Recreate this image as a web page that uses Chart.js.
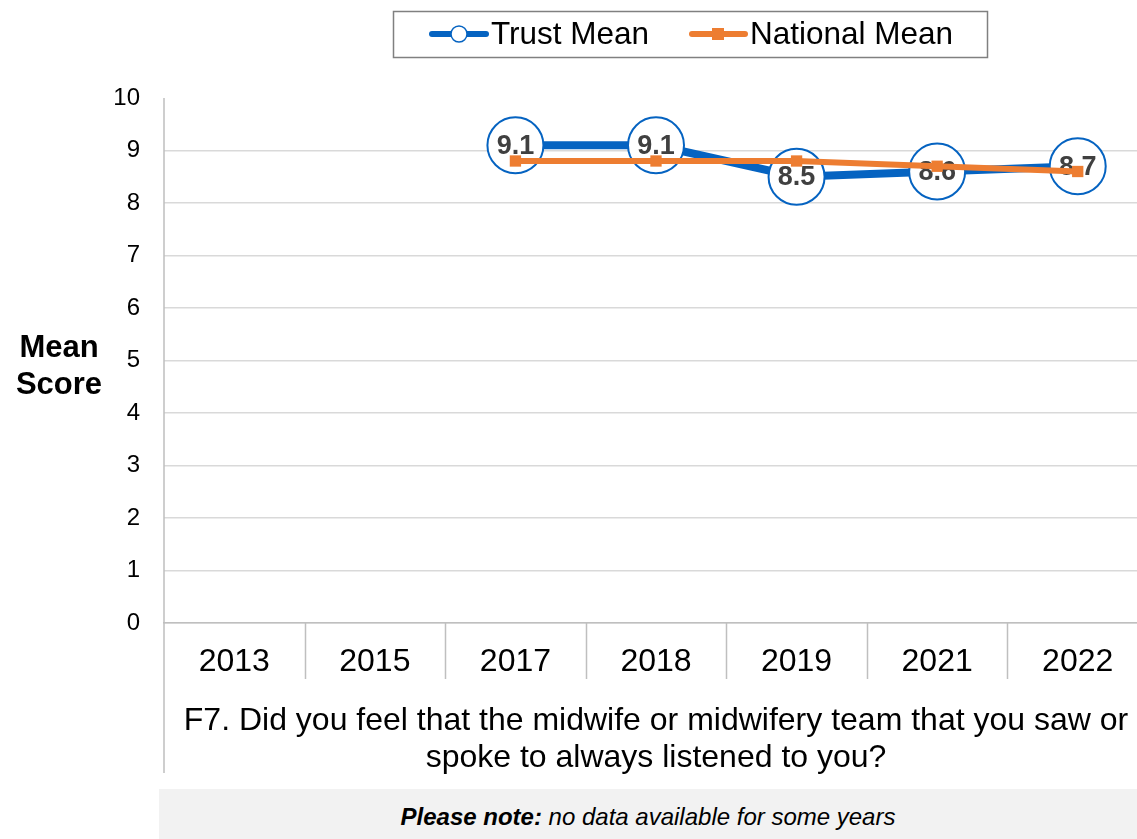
<!DOCTYPE html>
<html>
<head>
<meta charset="utf-8">
<script src="https://cdn.jsdelivr.net/npm/chart.js@4"></script>
<style>
	html, body { margin: 0; padding: 0; background: #fff; overflow: hidden; }
	#wrap { position: relative; width: 1137px; height: 839px; overflow: hidden; }
	#box { position: absolute; left: 0; top: 0; width: 1150px; height: 789px; }
	#note {
		position: absolute; left: 159px; top: 789px; width: 978px; height: 50px;
		background: #f2f2f2; font-family: "Liberation Sans", Arial, sans-serif;
		font-size: 24px; font-style: italic; color: #000;
		text-align: center; line-height: 56px;
	}
</style>
</head>
<body>
<div id="wrap">
	<div id="box"><canvas id="myChart" width="1150" height="789"></canvas></div>
	<div id="note"><b>Please note:</b> no data available for some years</div>
</div>
<script>
const years = ["2013", "2015", "2017", "2018", "2019", "2021", "2022"];
const trustMean = [null, null, 9.1, 9.1, 8.5, 8.6, 8.7];
const nationalMean = [null, null, 8.8, 8.8, 8.8, 8.7, 8.6];
const questionTitle = [
	"F7. Did you feel that the midwife or midwifery team that you saw or",
	"spoke to always listened to you?",
];

const BLUE = "#0563c1";
const ORANGE = "#ed7d31";
const FONT = "'Liberation Sans', Arial, sans-serif";

// подписи значений внутри кружков
const valueLabels = {
	id: "valueLabels",
	afterDatasetDraw(chart, args) {
		if (args.index !== 0) return;
		const ctx = chart.ctx;
		ctx.save();
		ctx.font = "bold 27px " + FONT;
		ctx.fillStyle = "#404040";
		ctx.textAlign = "center";
		ctx.textBaseline = "middle";
		args.meta.data.forEach((pt, i) => {
			const v = trustMean[i];
			if (v == null) return;
			ctx.fillText(v.toFixed(1), pt.x, pt.y + 1);
		});
		ctx.restore();
	},
};

// линии осей, разделители категорий, подпись оси Y, легенда
const decorations = {
	id: "decorations",
	afterDraw(chart) {
		const ctx = chart.ctx;
		const area = chart.chartArea;
		const x = chart.scales.x;
		ctx.save();
		ctx.strokeStyle = "#bfbfbf";
		ctx.lineWidth = 1.5;
		ctx.beginPath();
		ctx.moveTo(area.left, area.top);
		ctx.lineTo(area.left, 773);
		const step = x.getPixelForValue(1) - x.getPixelForValue(0);
		for (let i = 1; i < years.length; i++) {
			const px = Math.round(x.getPixelForValue(i) - step / 2) + 0.5;
			ctx.moveTo(px, area.bottom);
			ctx.lineTo(px, 679);
		}
		ctx.stroke();

		// Mean Score
		ctx.fillStyle = "#000";
		ctx.font = "bold 31px " + FONT;
		ctx.textAlign = "center";
		ctx.textBaseline = "middle";
		ctx.fillText("Mean", 59, 348);
		ctx.fillText("Score", 59, 385);

		// legend
		ctx.strokeStyle = "#808080";
		ctx.lineWidth = 1.5;
		ctx.strokeRect(393.5, 11.5, 594, 46);
		const ly = 34;
		ctx.lineCap = "round";
		ctx.strokeStyle = BLUE;
		ctx.lineWidth = 6;
		ctx.beginPath();
		ctx.moveTo(432, ly);
		ctx.lineTo(486, ly);
		ctx.stroke();
		ctx.fillStyle = "#fff";
		ctx.lineWidth = 1.5;
		ctx.beginPath();
		ctx.arc(459, ly, 8, 0, Math.PI * 2);
		ctx.fill();
		ctx.stroke();
		ctx.strokeStyle = ORANGE;
		ctx.lineWidth = 6;
		ctx.beginPath();
		ctx.moveTo(692, ly);
		ctx.lineTo(745, ly);
		ctx.stroke();
		ctx.fillStyle = ORANGE;
		ctx.fillRect(712, ly - 6, 12, 12);
		ctx.fillStyle = "#000";
		ctx.font = "31.5px " + FONT;
		ctx.textAlign = "left";
		ctx.fillText("Trust Mean", 491, ly + 1);
		ctx.fillText("National Mean", 750, ly + 1);
		ctx.restore();
	},
};

const ctx = document.getElementById("myChart");

new Chart(ctx, {
	type: "line",
	data: {
		labels: years,
		datasets: [
			{
				label: "Trust Mean",
				data: trustMean,
				order: 1,
				borderColor: BLUE,
				borderWidth: 8,
				pointRadius: 28,
				pointBackgroundColor: "#fff",
				pointBorderColor: BLUE,
				pointBorderWidth: 2,
				tension: 0,
			},
			{
				label: "National Mean",
				data: nationalMean,
				order: 0,
				borderColor: ORANGE,
				borderWidth: 6,
				pointStyle: "rect",
				pointRadius: 8,
				pointBackgroundColor: ORANGE,
				pointBorderColor: ORANGE,
				pointBorderWidth: 0,
				tension: 0,
			},
		],
	},
	options: {
		responsive: false,
		animation: false,
		layout: { autoPadding: false, padding: { top: 98, right: 2, bottom: 12, left: 0 } },
		plugins: {
			legend: { display: false },
			tooltip: { enabled: false },
		},
		scales: {
			x: {
				offset: true,
				grid: { display: false },
				border: { display: true, color: "#bfbfbf", width: 1.5 },
				ticks: {
					color: "#000",
					font: { family: FONT, size: 32 },
					padding: 12,
					maxRotation: 0,
				},
				title: {
					display: true,
					text: questionTitle,
					color: "#000",
					font: { family: FONT, size: 32, lineHeight: 1.16 },
					padding: { top: 0, bottom: 0 },
				},
				afterFit: (s) => { s.height = 154; },
			},
			y: {
				min: 0,
				max: 10,
				ticks: {
					stepSize: 1,
					color: "#000",
					font: { family: FONT, size: 24 },
					padding: 24,
				},
				grid: {
					drawTicks: false,
					color: (c) => (c.tick && c.tick.value === 10 ? "rgba(0,0,0,0)" : "#d9d9d9"),
					lineWidth: 1.5,
				},
				border: { display: false },
				afterFit: (s) => { s.width = 164; },
			},
		},
	},
	plugins: [valueLabels, decorations],
});
</script>
</body>
</html>
